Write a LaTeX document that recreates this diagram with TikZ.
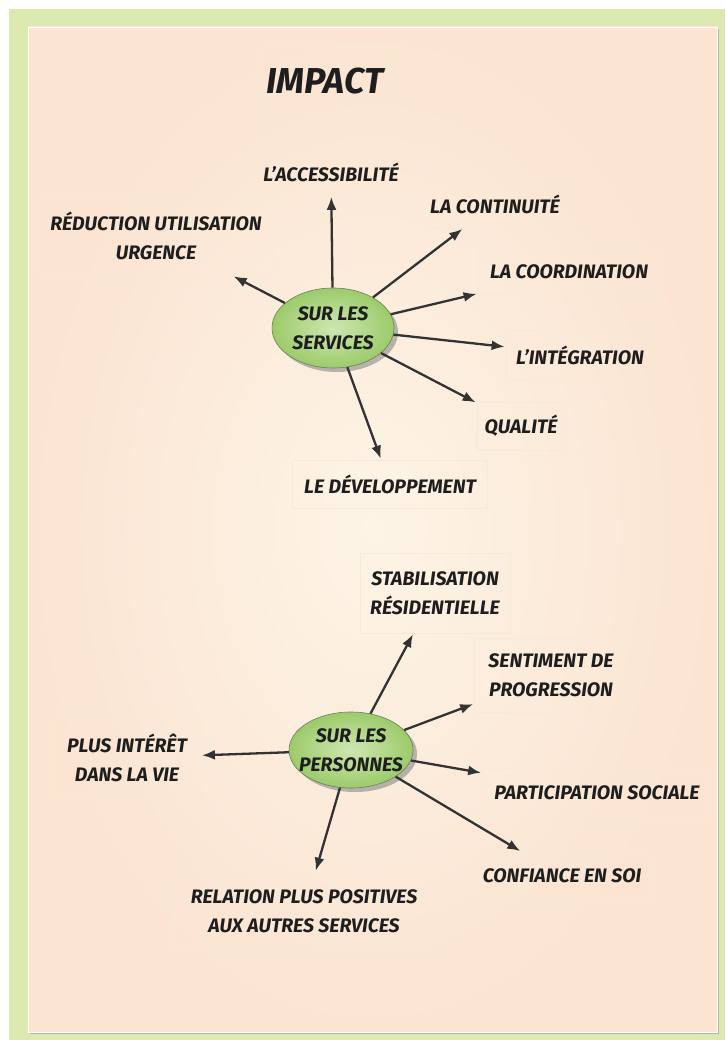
\documentclass[tikz,border=0pt]{standalone}
\usepackage{fontspec}
\setmainfont{Fira Sans}
\usetikzlibrary{arrows.meta,shapes.geometric,shadows}

\definecolor{framegreen}{HTML}{DCE9B0}
\definecolor{panelpeach}{HTML}{FBE4D2}
\definecolor{panellight}{HTML}{FDF4E6}
\definecolor{boxedge}{HTML}{F4EBD2}
\definecolor{arrowgray}{HTML}{333333}
\definecolor{topicgreen}{HTML}{9CCB6A}
\definecolor{topiclight}{HTML}{CFE6B2}
\definecolor{topicedge}{HTML}{6E7E60}
\definecolor{inkblack}{HTML}{1E1E1E}

\newcommand{\labelfont}{\fontsize{19.5}{29}\selectfont\bfseries\itshape}
\newcommand{\titlefont}{\fontsize{36}{40}\selectfont\bfseries\itshape}

\begin{document}
\begin{tikzpicture}[x=1pt,y=-1pt,
    label node/.style={rectangle,draw=boxedge,line width=0.8pt,inner sep=0pt,
                       align=center,text=inkblack,font=\labelfont},
    topic node/.style={ellipse,draw=topicedge,line width=0.6pt,shading=radial,
                       inner color=topiclight,outer color=topicgreen,align=center,
                       inner xsep=-9pt,inner ysep=0pt,
                       text=inkblack,font=\labelfont,
                       drop shadow={shadow xshift=4pt,shadow yshift=-4pt,opacity=0.55}}]

  % fond
  \useasboundingbox (0,0) rectangle (725,1040);
  \fill[framegreen] (9,9) rectangle (725,1040);
  \fill[black!30] (30,29) rectangle (719,1034);
  \shade[inner color=panellight,outer color=panelpeach] (28,27) rectangle (717,1032);
  \draw[white,line width=0.8pt] (28,27) rectangle (717,1032);

  \node[label node,minimum width=134pt,minimum height=68pt,font=\titlefont] (imp) at (325,81) {IMPACT};

  % sur les services
  \node[topic node,minimum width=122pt,minimum height=80pt] (srv) at (333,328) {SUR LES\\SERVICES};
  \node[label node,minimum width=162pt,minimum height=47pt] (acc) at (331,172) {L’ACCESSIBILITÉ};
  \node[label node,minimum width=146pt,minimum height=48pt] (cont) at (495,204) {LA CONTINUITÉ};
  \node[label node,minimum width=236pt,minimum height=79pt] (red) at (156,236) {RÉDUCTION UTILISATION\\URGENCE};
  \node[label node,minimum width=182pt,minimum height=45pt] (coord) at (569,272) {LA COORDINATION};
  \node[label node,minimum width=148pt,minimum height=50pt] (integ) at (580,355) {L’INTÉGRATION};
  \node[label node,minimum width=88pt,minimum height=48pt] (qual) at (521,426) {QUALITÉ};
  \node[label node,minimum width=195pt,minimum height=48pt] (dev) at (390,484) {LE DÉVELOPPEMENT};

  % sur les personnes
  \node[topic node,minimum width=124pt,minimum height=76pt] (pers) at (351,750) {SUR LES\\PERSONNES};
  \node[label node,minimum width=150pt,minimum height=80pt] (stab) at (435,593) {STABILISATION\\RÉSIDENTIELLE};
  \node[label node,minimum width=153pt,minimum height=74pt] (sent) at (551,675) {SENTIMENT DE\\PROGRESSION};
  \node[label node,minimum width=147pt,minimum height=80pt] (plus) at (127,758) {PLUS INTÉRÊT\\DANS LA VIE};
  \node[label node,minimum width=229pt,minimum height=50pt] (part) at (597,793) {PARTICIPATION SOCIALE};
  \node[label node,minimum width=176pt,minimum height=48pt] (conf) at (562,876) {CONFIANCE EN SOI};
  \node[label node,minimum width=257pt,minimum height=78pt] (rel) at (304,911) {RELATION PLUS POSITIVES\\AUX AUTRES SERVICES};

  \path[every edge/.style={draw=arrowgray,line width=2.3pt,shorten >=1pt,
                           -{Latex[length=13pt,width=10pt]}}]
    (srv) edge (acc)
    (srv) edge (cont)
    (srv) edge (red)
    (srv) edge (coord)
    (srv) edge (integ)
    (srv) edge (qual)
    (srv) edge (dev)
    (pers) edge (stab)
    (pers) edge (sent)
    (pers) edge (plus)
    (pers) edge (part)
    (pers) edge (conf)
    (pers) edge (rel);
\end{tikzpicture}
\end{document}
